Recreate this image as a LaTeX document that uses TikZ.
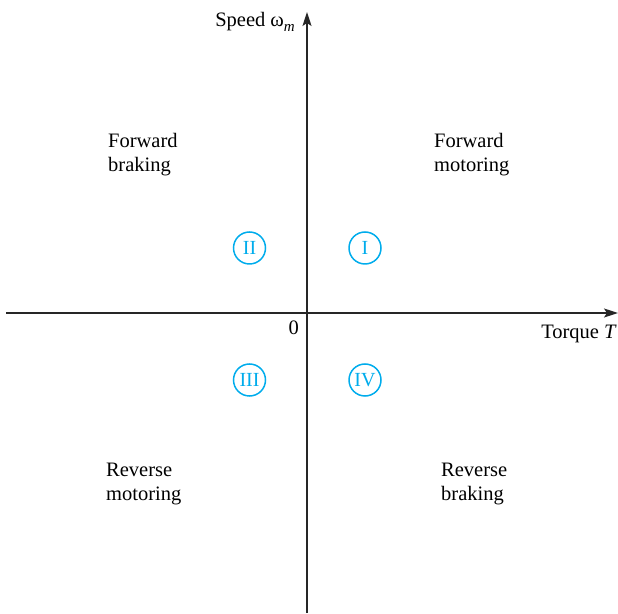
\documentclass[tikz,border=0pt]{standalone}
\usepackage{fontspec}
\setmainfont{Liberation Serif}
\usetikzlibrary{arrows.meta}
\definecolor{quadcyan}{RGB}{0,172,236}
\begin{document}
\begin{tikzpicture}[x=1pt,y=1pt,
  axis/.style={line width=1.5pt,draw=black!85,-{Stealth[length=14pt,width=9pt,inset=3pt]}},
  lbl/.style={font=\fontsize{20.5}{24}\selectfont,align=left,inner sep=0pt},
  quad/.style={circle,draw=quadcyan,line width=1.5pt,text=quadcyan,minimum size=32pt,inner sep=0pt,font=\fontsize{20}{22}\selectfont}]
\useasboundingbox (0,0) rectangle (618,613);
\coordinate (xl) at (6,300);
\coordinate (xr) at (618,300);
\coordinate (yb) at (307,0);
\coordinate (yt) at (307,601);
\draw[axis] (xl) -- (xr);
\draw[axis] (yb) -- (yt);
\node[lbl,anchor=base east] (sp) at (295,586) {Speed ω\raisebox{-5pt}{\fontsize{15}{15}\selectfont\itshape m}};
\node[lbl,anchor=base east] (tq) at (617,274) {Torque \textit{T}};
\node[lbl,anchor=base east] (zero) at (299,278) {0};
\node[lbl,anchor=west] (fb) at (108,458) {Forward\\braking};
\node[lbl,anchor=west] (fm) at (434,458) {Forward\\motoring};
\node[lbl,anchor=west] (rm) at (106,129) {Reverse\\motoring};
\node[lbl,anchor=west] (rb) at (441,129) {Reverse\\braking};
\node[quad] (q2) at (249.5,365) {II};
\node[quad] (q1) at (365,365) {I};
\node[quad] (q3) at (249.5,233) {III};
\node[quad] (q4) at (365,233) {IV};
\end{tikzpicture}
\end{document}
